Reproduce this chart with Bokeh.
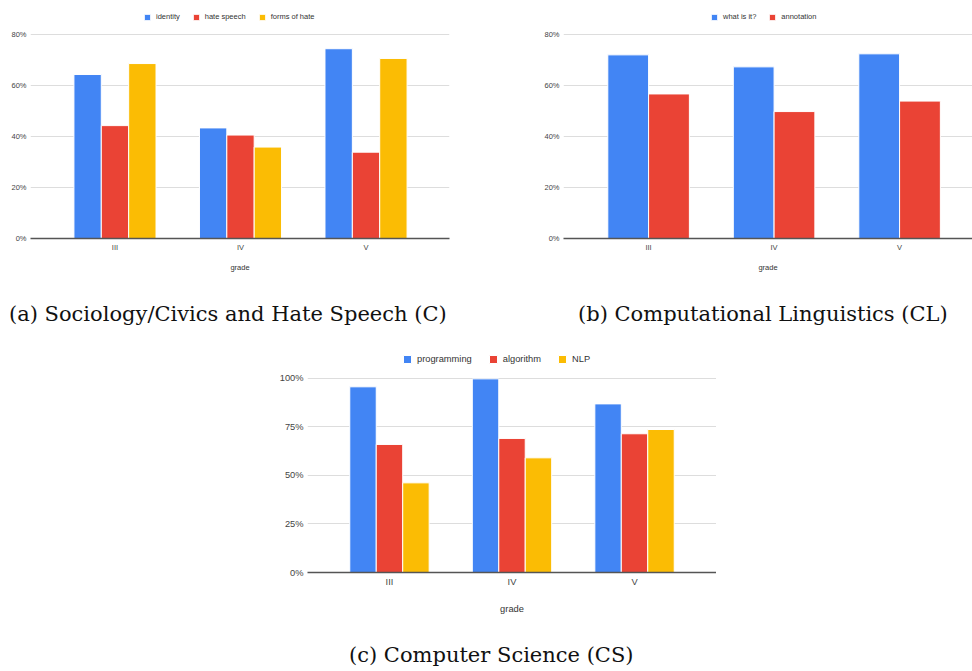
import numpy as np
from bokeh.plotting import figure
from bokeh.models import (Range1d, FixedTicker, PrintfTickFormatter, Legend, LegendItem,
                          Div, Spacer, ColumnDataSource)
from bokeh.layouts import column, row
from bokeh.transform import dodge
from bokeh.embed import file_html
from bokeh.resources import INLINE

# ---------------- data ----------------
grades = ["III", "IV", "V"]

# (a) Sociology/Civics and Hate Speech
a_series = ["identity", "hate speech", "forms of hate"]
a_identity = [64.2, 43.3, 74.3]
a_hate_speech = [44.2, 40.5, 33.8]
a_forms_of_hate = [68.5, 35.8, 70.5]

# (b) Computational Linguistics
b_series = ["what is it?", "annotation"]
b_what_is_it = [71.9, 67.2, 72.3]
b_annotation = [56.6, 49.7, 53.8]

# (c) Computer Science
c_series = ["programming", "algorithm", "NLP"]
c_programming = [95.7, 99.8, 86.9]
c_algorithm = [66.0, 69.1, 71.5]
c_nlp = [46.2, 59.1, 73.7]

ab_ticks = [0, 20, 40, 60, 80]
c_ticks = [0, 25, 50, 75, 100]

captions = ["(a) Sociology/Civics and Hate Speech (C)",
            "(b) Computational Linguistics (CL)",
            "(c) Computer Science (CS)"]

colors = ["#4285F4", "#EA4335", "#FBBC04"]
SANS = "Liberation Sans"
SERIF = "DejaVu Serif"


def make_chart(names, values, ticks, x_range, y_top, step, width, height,
               mb_left, mb_right, mb_top, mb_bottom, font_px, legend_glyph,
               legend_spacing, label_standoff_x, legend_loc):
    xs = list(range(len(grades)))
    data = {"x": xs}
    for i, v in enumerate(values):
        data[f"s{i}"] = v
    src = ColumnDataSource(data)
    p = figure(width=width, height=height, output_backend="svg", toolbar_location=None,
               x_range=Range1d(*x_range), y_range=Range1d(ticks[0], y_top),
               min_border_left=mb_left, min_border_right=mb_right,
               min_border_top=mb_top, min_border_bottom=mb_bottom)
    p.outline_line_color = None
    n = len(names)
    items = []
    for i, name in enumerate(names):
        off = (i - (n - 1) / 2) * step
        r = p.vbar(x=dodge("x", off), top=f"s{i}", width=step, source=src,
                   fill_color=colors[i], line_color="white", line_width=1)
        items.append(LegendItem(label=name, renderers=[r]))

    # y axis
    p.yaxis.ticker = FixedTicker(ticks=ticks)
    p.yaxis.formatter = PrintfTickFormatter(format="%d%%")
    p.yaxis.axis_line_color = None
    p.yaxis.major_tick_line_color = None
    p.yaxis.minor_tick_line_color = None
    p.yaxis.major_tick_out = 0
    p.yaxis.major_tick_in = 0
    p.yaxis.major_label_standoff = 4
    p.yaxis.major_label_text_font = SANS
    p.yaxis.major_label_text_font_size = f"{font_px}px"
    p.yaxis.major_label_text_color = "#444444"
    p.ygrid.ticker = FixedTicker(ticks=ticks)
    p.ygrid.grid_line_color = "#dddddd"
    p.ygrid.grid_line_width = 1

    # x axis
    p.xaxis.ticker = FixedTicker(ticks=xs)
    p.xaxis.major_label_overrides = {i: g for i, g in enumerate(grades)}
    p.xaxis.axis_line_color = "#555555"
    p.xaxis.axis_line_width = 1.5
    p.xaxis.major_tick_line_color = None
    p.xaxis.minor_tick_line_color = None
    p.xaxis.major_tick_out = 0
    p.xaxis.major_tick_in = 0
    p.xaxis.major_label_standoff = 4
    p.xaxis.major_label_text_font = SANS
    p.xaxis.major_label_text_font_size = f"{font_px}px"
    p.xaxis.major_label_text_color = "#444444"
    p.xaxis.axis_label = "grade"
    p.xaxis.axis_label_text_font = SANS
    p.xaxis.axis_label_text_font_style = "normal"
    p.xaxis.axis_label_text_font_size = f"{font_px}px"
    p.xaxis.axis_label_text_color = "#333333"
    p.xaxis.axis_label_standoff = label_standoff_x
    p.xgrid.grid_line_color = None

    legend = Legend(items=items, orientation="horizontal", location=legend_loc,
                    glyph_width=legend_glyph, glyph_height=legend_glyph,
                    label_text_font=SANS, label_text_font_size=f"{font_px}px",
                    label_text_color="#333333", label_standoff=5,
                    spacing=legend_spacing, padding=0, margin=0,
                    border_line_color=None, background_fill_alpha=0)
    p.add_layout(legend)
    return p


# frame a: x 30..449, y 10..238 (80% line at y=34)
pa = make_chart(a_series, [a_identity, a_hate_speech, a_forms_of_hate], ab_ticks,
                (-0.673, 2.665), 89.27, 0.218, 490, 292, 30, 41, 10, 54, 7.5, 8, 12, 8,
                (113, 217))
# frame b: x 563..972 (cut at the right edge like the reference)
pb = make_chart(b_series, [b_what_is_it, b_annotation], ab_ticks,
                (-0.678, 2.581), 89.27, 0.325, 482, 292, 73, 0, 10, 54, 7.5, 8, 12, 8,
                (147, 217))
# frame c: x 307..716, y 338..572 (100% line at y=378)
pc = make_chart(c_series, [c_programming, c_algorithm, c_nlp], c_ticks,
                (-0.669, 2.669), 120.6, 0.216, 716, 284, 307, 0, 2, 48, 9.3, 10, 16, 14,
                (95, 208))


def caption(text, w, h, line_h, pad_top, pad_left):
    html = (f'<div style="line-height:{line_h}px; padding-top:{pad_top}px; '
            f'padding-left:{pad_left}px; white-space:nowrap;">{text}</div>')
    return Div(text=html, width=w, height=h, margin=0,
               styles={"font-family": SERIF, "font-size": "21px", "color": "#111111"})


cap_row1 = row(caption(captions[0], 490, 44, 44, 0, 9),
               caption(captions[1], 482, 44, 44, 0, 88), spacing=0)
cap_c = caption(captions[2], 972, 51, 14, 28, 349)

layout = column(row(pa, pb, spacing=0), cap_row1, pc, cap_c, spacing=0)

open("out.html", "w").write(file_html(layout, INLINE))
